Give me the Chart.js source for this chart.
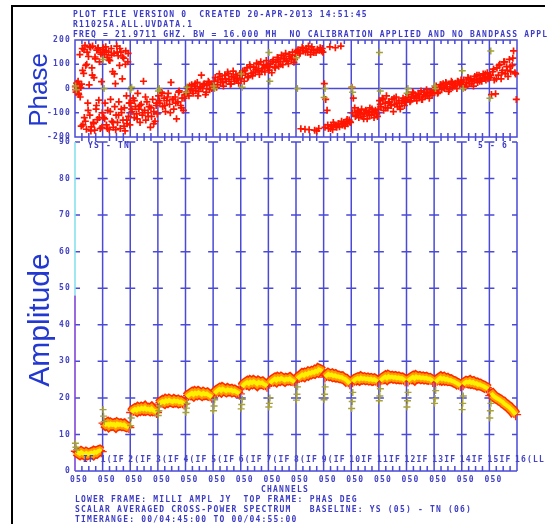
<!DOCTYPE html>
<html>
<head>
<meta charset="utf-8">
<script src="https://cdn.jsdelivr.net/npm/chart.js@4.4.1/dist/chart.umd.min.js"></script>
<style>
  body { margin: 0; background: #fff; }
  #wrap { position: relative; width: 548px; height: 524px; overflow: hidden; background: #fff; }
  #wrap canvas { position: absolute; left: 0; top: 0; }
  .frameL { position: absolute; left: 11px; top: 5px; width: 2px; height: 519px; background: #000; }
  .frameT { position: absolute; left: 11px; top: 5px; width: 534px; height: 2px; background: #000; }
  .t { position: absolute; font: bold 8px "DejaVu Sans Mono"; letter-spacing: 1.2px; color: #3c3cc6;
       white-space: pre; line-height: 10px; }
  .big { position: absolute; font: 26px "Liberation Sans"; color: #2338d0; white-space: nowrap;
         transform: translate(-50%, -50%) rotate(-90deg); }
</style>
</head>
<body>
<div id="wrap">
  <canvas id="phase" width="548" height="524"></canvas>
  <canvas id="amp" width="548" height="524"></canvas>
  <div class="frameL"></div>
  <div class="frameT"></div>
  <div class="t" style="left:73px;top:10px">PLOT FILE VERSION 0  CREATED 20-APR-2013 14:51:45
R11025A.ALL.UVDATA.1
FREQ = 21.9711 GHZ. BW = 16.000 MH  NO CALIBRATION APPLIED AND NO BANDPASS APPLIED</div>
  <div class="t" style="left:88px;top:141px">YS - TN</div>
  <div class="t" style="left:478px;top:141px">5 - 6</div>
  <div class="t" style="left:261px;top:485px">CHANNELS</div>
  <div class="t" style="left:75px;top:495px">LOWER FRAME: MILLI AMPL JY  TOP FRAME: PHAS DEG
SCALAR AVERAGED CROSS-POWER SPECTRUM   BASELINE: YS (05) - TN (06)
TIMERANGE: 00/04:45:00 TO 00/04:55:00</div>
  <div class="big" style="left:38px;top:90px">Phase</div>
  <div class="big" style="left:39px;top:320px;font-size:30px">Amplitude</div>
</div>
<script>
// POSSM plot, baseline YS-TN, 16 IFs

const nIF = 16;
const phaseTicks = [200, 100, 0, -100, -200];
const ampTicks = [90, 80, 70, 60, 50, 40, 30, 20, 10, 0];
const chanLabel = '050';
const ifLabels = ['IF', '1(IF', '2(IF', '3(IF', '4(IF', '5(IF', '6(IF', '7(IF', '8(IF',
                  '9(IF', '10IF', '11IF', '12IF', '13IF', '14IF', '15IF', '16(LL'];

// phase (deg) read per IF, channels left to right
const phaseByIF = [
  [8, -15, 22, -6, 30, -25, 12, -35, 4, 18, 165, -150, 62, -120, 178, 95, -168, 150, -60, 132,
   15, -110, 170, -158, 85, 175, -140, 45, -172, 122, -85, 158, -128, 168, -48, 110, -165, 142, 28, -100],
  [160, -120, 140, -60, 172, -150, 128, -90, 150, -170, 115, -45, 165, -135, 70, -160, 145, -75, 20, -110,
   175, -140, 135, -55, 95, -165, 150, -100, 40, -130, 125, -80, -175, 155, -30, -145, 110, -115, -60, -150],
  [-60, -95, -40, -120, -75, -105, -20, -85, -140, -65, -110, 30, -90, -130, -55, -100, -75, -160, -115, -45, -95, -135, -70, -105],
  [-30, -60, -15, -75, -40, -95, -50, -20, -65, 25, -45, -85, -35, -125, -55, -10, -70, -40, -90, -25],
  [-15, 5, -30, -5, 15, -20, 10, -8, 25, -12, 8, 55, 0, 20, -25, 12, 30, -5, 18, 6],
  [15, 45, 5, 35, 60, 25, 40, 10, 55, 30, 68, 38, 18, 50, 72, 30, 58, 42, 22, 62],
  [40, 72, 30, 60, 85, 48, 98, 62, 52, 88, 68, 105, 75, 58, 110, 82, 98, 68, 115, 90],
  [75, 102, 65, 118, 88, 108, 128, 92, 112, 138, 98, 122, 145, 112, 102, 132, 122, 150, 108, 138],
  [150, 160, 145, -166, 170, 155, -168, 165, 150, -170, 140, 172, 158, -172, 148, 162, -165, 168, 155, 150],
  [20, -45, -90, -165, 172, -155, -170, -150, 168, -160, -145, -158, 175, -150, -140, -155, -135, -145, -130, -140],
  [5, -40, -80, -110, -95, -120, -100, -85, -115, -105, -90, -125, -100, -80, -110, -95, -120, -90, -105, -85],
  [-50, -75, -40, -90, -60, -30, -80, -55, -70, -45, -95, -65, -35, -75, -50, -85, -60, -40, -70, -55],
  [-45, -25, -55, -35, -15, -40, -30, -50, -20, -35, -10, -45, -25, -30, -5, -20, -40, -15, -28, -10],
  [-10, 10, -20, 5, 15, -5, 20, 0, 25, 8, -12, 18, 30, 5, 12, 22, 0, 28, 15, 35],
  [15, 35, 5, 25, 45, 20, 40, 30, 10, 50, 35, 25, 55, 40, 30, 60, 45, 35, 65, 50],
  [45, -25, 70, 35, -22, 85, 55, 100, 40, 75, 110, 60, 90, 50, 120, 70, 95, 155, 65, -45]
];
// second integration, same channels
const phaseByIF2 = [
  [-5, 20, -20, 140, -155, 75, 160, -135, 100, -90, 172, -175, 55, -145, 130, -70, 165, -120, 150, -160],
  [168, -125, 155, -165, 118, -95, 138, -140, 60, -170, 150, -110, 165, -85, 130, -155, 100, -130, 145, -60],
  [-85, -50, -125, -70, -100, -35, -115, -80, -145, -60],
  [-50, -20, -70, -35, -100, -45, -60, -15, -80, -40],
  [-20, 10, -10, 20, -30, 5, 15, -15, 25, 0],
  [30, 15, 50, 25, 40, 60, 20, 45, 35, 55],
  [55, 75, 45, 90, 65, 80, 100, 70, 85, 95],
  [90, 110, 85, 120, 100, 130, 115, 140, 125, 120],
  [155, 145, 165, 150, 175, 160, 148, -175, 158, 165],
  [-160, -150, -165, -140, -155, -145, -135, -150, -128, -138],
  [-100, -115, -90, -105, -125, -95, -110, -85, -100, -115],
  [-65, -45, -80, -55, -70, -40, -60, -75, -50, -45],
  [-35, -50, -20, -40, -25, -45, -15, -30, -20, -5],
  [0, -15, 15, 5, 20, -5, 25, 10, 30, 20],
  [25, 10, 40, 20, 35, 55, 30, 45, 60, 40],
  [55, 80, 40, 95, 65, 110, 75, 90, 125, 60]
];
// edge channels (olive) per IF
const phaseEdge = [
  [10, -5], [120, 0], [-5, 5], [-10, 0], [-15, 5], [10, 0], [60, 5], [148, 30],
  [127, 0], [-37, 0], [4, -15], [148, -10], [-20, 0], [10, 0], [73, 0], [-40, 155]
];

// amplitude (milli Jy) per IF
const ampByIF = [
  [5.4, 5.0, 4.7, 5.1, 4.8, 4.5, 4.9, 4.6, 4.8, 5.0, 4.7, 5.2, 5.0, 5.4, 5.6, 5.3],
  [13.1, 12.7, 13.0, 12.5, 12.9, 12.6, 12.8, 12.4, 12.9, 12.6, 12.8, 12.5, 12.7, 12.3, 12.1, 11.9],
  [16.0, 16.6, 16.9, 16.6, 17.1, 16.8, 17.2, 16.9, 17.3, 16.8, 17.0, 16.7, 17.1, 16.6, 16.4, 16.0],
  [18.3, 18.8, 19.1, 18.8, 19.3, 19.0, 19.4, 19.1, 18.9, 19.3, 19.0, 19.2, 18.8, 19.0, 18.7, 18.3],
  [20.2, 20.7, 21.0, 21.3, 20.9, 21.4, 21.1, 21.5, 21.2, 20.9, 21.3, 21.0, 21.2, 20.8, 20.6, 20.2],
  [21.2, 21.7, 22.1, 22.4, 22.0, 22.5, 22.2, 21.9, 22.3, 22.0, 22.2, 21.8, 22.0, 21.7, 21.5, 21.1],
  [23.0, 23.6, 24.0, 24.3, 23.9, 24.4, 24.1, 24.5, 24.2, 23.8, 24.3, 24.0, 24.2, 23.8, 23.6, 23.2],
  [24.0, 24.5, 24.9, 25.2, 24.8, 25.3, 25.0, 25.4, 25.1, 24.8, 25.2, 25.0, 25.3, 24.9, 24.7, 24.3],
  [25.2, 25.7, 26.0, 26.4, 26.1, 26.6, 26.4, 26.9, 26.7, 27.1, 26.9, 27.4, 27.2, 27.8, 27.6, 27.2],
  [25.7, 26.1, 26.5, 26.2, 26.4, 26.0, 26.2, 25.8, 25.9, 25.6, 25.7, 25.3, 25.2, 24.8, 24.4, 23.9],
  [24.4, 24.8, 25.2, 25.4, 25.1, 25.5, 25.2, 25.4, 25.1, 25.3, 25.0, 25.2, 24.9, 25.1, 24.8, 24.4],
  [24.7, 25.1, 25.5, 25.8, 25.4, 25.9, 25.6, 25.8, 25.5, 25.7, 25.4, 25.6, 25.3, 25.4, 25.1, 24.7],
  [24.6, 25.1, 25.4, 25.7, 25.3, 25.8, 25.5, 25.7, 25.4, 25.6, 25.3, 25.5, 25.2, 25.3, 25.0, 24.5],
  [24.3, 24.8, 25.2, 25.5, 25.1, 25.4, 25.0, 25.2, 24.8, 24.9, 24.6, 24.5, 24.2, 24.0, 23.7, 23.3],
  [23.6, 24.1, 24.4, 24.2, 24.5, 24.1, 24.3, 23.9, 24.0, 23.6, 23.7, 23.4, 23.3, 23.0, 22.8, 22.4],
  [20.6, 20.9, 20.4, 20.1, 19.8, 19.6, 19.2, 19.0, 18.5, 18.2, 17.8, 17.5, 17.0, 16.6, 16.0, 15.4]
];
const ampEdge = [
  [7.6, 6.5, 5.8], [16.8, 15.0, 13.5], [12.4, 14.5], [15.2, 16.5, 17.8], [16.0, 17.2, 18.5],
  [16.5, 17.8, 19.5], [17.0, 18.2, 19.6], [17.5, 18.5, 20.0], [19.4, 21.0, 23.0], [19.5, 21.0, 23.0],
  [17.1, 19.0, 21.5], [19.2, 20.5, 22.5], [17.5, 19.2, 21.5], [18.5, 19.8, 22.0], [16.8, 18.5, 20.5],
  [14.5, 16.5, 18.5]
];
// first channel of IF 1 drawn as a line from 0
const leftSpike = [0, 48, 90];

const BLUE = '#4a4ad6';
const LABEL = '#4444c4';

// build points
const phasePts = [];
[phaseByIF, phaseByIF2].forEach(rows => rows.forEach((vals, i) =>
  vals.forEach((v, j) => phasePts.push({ x: i + (j + 0.5) / vals.length, y: v }))));
const phaseEdgePts = [];
phaseEdge.forEach((vals, i) => vals.forEach((v, k) => phaseEdgePts.push({ x: i + 0.02 + k * 0.03, y: v })));

const ampPts = [];
ampByIF.forEach((vals, i) => {
  vals.forEach((v, j) => ampPts.push({ x: i + 0.05 + j * 0.9 / (vals.length - 1), y: v }));
  ampPts.push({ x: i + 1, y: null });
});
const ampEdgePts = [];
ampEdge.forEach((vals, i) => vals.forEach((v, k) => ampEdgePts.push({ x: i + 0.015 + k * 0.02, y: v })));

function setFont(ctx) {
  ctx.font = 'bold 8px "DejaVu Sans Mono"';
  ctx.letterSpacing = '1.2px';
  ctx.fillStyle = LABEL;
  ctx.textBaseline = 'middle';
}

function hTick(ctx, px, py, left, right) {
  ctx.moveTo(px - left, py);
  ctx.lineTo(px + right, py);
}

const phaseFrame = {
  id: 'phaseFrame',
  beforeDatasetsDraw(chart) {
    const { ctx, chartArea: a, scales: { x, y } } = chart;
    ctx.save();
    ctx.strokeStyle = BLUE;
    ctx.lineWidth = 1.5;
    ctx.strokeRect(a.left, a.top, a.right - a.left, a.bottom - a.top);
    ctx.beginPath();
    for (let i = 1; i < nIF; i++) {
      const px = x.getPixelForValue(i);
      ctx.moveTo(px, a.top);
      ctx.lineTo(px, a.bottom);
    }
    const y0 = y.getPixelForValue(0);
    ctx.moveTo(a.left, y0);
    ctx.lineTo(a.right, y0);
    [100, -100].forEach(v => {
      const py = y.getPixelForValue(v);
      for (let i = 0; i <= nIF; i++) {
        const px = x.getPixelForValue(i);
        hTick(ctx, px, py, i === 0 ? 0 : 4, i === nIF ? 0 : 4);
      }
    });
    for (let i = 0; i < nIF; i++) {
      for (let q = 1; q < 4; q++) {
        const px = x.getPixelForValue(i + q / 4);
        ctx.moveTo(px, a.top); ctx.lineTo(px, a.top + 4);
        ctx.moveTo(px, a.bottom); ctx.lineTo(px, a.bottom - 4);
      }
    }
    ctx.stroke();
    ctx.restore();
  },
  afterDraw(chart) {
    const { ctx, scales: { y } } = chart;
    ctx.save();
    setFont(ctx);
    ctx.textAlign = 'right';
    phaseTicks.forEach(v => ctx.fillText(String(v), 71, y.getPixelForValue(v)));
    ctx.restore();
  }
};

const ampFrame = {
  id: 'ampFrame',
  beforeDatasetsDraw(chart) {
    const { ctx, chartArea: a, scales: { x, y } } = chart;
    ctx.save();
    ctx.strokeStyle = BLUE;
    ctx.lineWidth = 1.5;
    ctx.beginPath();
    for (let i = 1; i <= nIF; i++) {
      const px = x.getPixelForValue(i);
      ctx.moveTo(px, a.top);
      ctx.lineTo(px, a.bottom);
    }
    ctx.moveTo(a.left, a.bottom);
    ctx.lineTo(a.right, a.bottom);
    ampTicks.forEach(v => {
      if (v === 0) return;
      const py = y.getPixelForValue(v);
      for (let i = 0; i <= nIF; i++) {
        const px = x.getPixelForValue(i);
        hTick(ctx, px, py, i === 0 ? 0 : 5, i === nIF ? 0 : 5);
      }
    });
    for (let i = 0; i < nIF; i++) {
      for (let q = 1; q < 4; q++) {
        const px = x.getPixelForValue(i + q / 4);
        ctx.moveTo(px, a.bottom); ctx.lineTo(px, a.bottom - 5);
        ctx.moveTo(px, a.top - 5); ctx.lineTo(px, a.top - 1);
      }
    }
    ctx.stroke();
    ctx.restore();
  },
  afterDraw(chart) {
    const { ctx, chartArea: a, scales: { x, y } } = chart;
    ctx.save();
    setFont(ctx);
    ctx.textAlign = 'right';
    ampTicks.forEach(v => ctx.fillText(String(v), 71, y.getPixelForValue(v)));
    ctx.textAlign = 'left';
    for (let i = 0; i < nIF; i++) ctx.fillText(chanLabel, x.getPixelForValue(i) - 5, a.bottom + 9);
    ifLabels.forEach((s, i) => {
      const px = x.getPixelForValue(i);
      ctx.fillText(s, i === 0 ? px + 8 : px - 2, a.bottom - 11);
    });
    ctx.restore();
  }
};

const common = {
  responsive: false,
  animation: false,
  events: [],
  plugins: { legend: { display: false }, tooltip: { enabled: false } }
};

new Chart(document.getElementById('phase'), {
  type: 'scatter',
  data: {
    datasets: [
      { data: phaseEdgePts, order: 1, pointStyle: 'cross', pointRadius: 3.5, borderColor: '#a3a23a',
        backgroundColor: '#a3a23a', borderWidth: 1.5, clip: 8 },
      { data: phasePts, order: 2, pointStyle: 'cross', pointRadius: 3.5, borderColor: '#ff1400',
        backgroundColor: '#ff1400', borderWidth: 1.7, clip: 8 }
    ]
  },
  options: {
    ...common,
    layout: { padding: { left: 75, right: 31, top: 40, bottom: 387 } },
    scales: {
      x: { type: 'linear', min: 0, max: nIF, display: false },
      y: { min: -200, max: 200, display: false }
    }
  },
  plugins: [phaseFrame]
});

new Chart(document.getElementById('amp'), {
  type: 'scatter',
  data: {
    datasets: [
      { data: ampEdgePts, order: 0, pointStyle: 'cross', pointRadius: 3.5, borderColor: '#a8a235',
        backgroundColor: '#a8a235', borderWidth: 1.4, clip: 8 },
      { data: ampPts, order: 1, showLine: true, spanGaps: false, borderColor: '#fff000', borderWidth: 4,
        pointRadius: 0, clip: 8 },
      { data: ampPts, order: 2, showLine: true, spanGaps: false, borderColor: '#ff9a00', borderWidth: 8,
        pointRadius: 0, clip: 8 },
      { data: ampPts, order: 3, showLine: true, spanGaps: false, borderColor: '#ff2a00', borderWidth: 11,
        pointStyle: 'cross', pointRadius: 5.5, pointBorderColor: '#ff2a00', pointBorderWidth: 1.3, clip: 8 },
      { data: [{ x: 0, y: leftSpike[0] }, { x: 0, y: leftSpike[1] }], order: 5, showLine: true,
        borderColor: '#7f45d8', borderWidth: 1.6, pointRadius: 0, clip: 8 },
      { data: [{ x: 0, y: leftSpike[1] }, { x: 0, y: leftSpike[2] }], order: 5, showLine: true,
        borderColor: '#86e2ee', borderWidth: 1.6, pointRadius: 0, clip: 8 }
    ]
  },
  options: {
    ...common,
    layout: { padding: { left: 75, right: 31, top: 142, bottom: 53 } },
    scales: {
      x: { type: 'linear', min: 0, max: nIF, display: false },
      y: { min: 0, max: 90, display: false }
    }
  },
  plugins: [ampFrame]
});
</script>
</body>
</html>
